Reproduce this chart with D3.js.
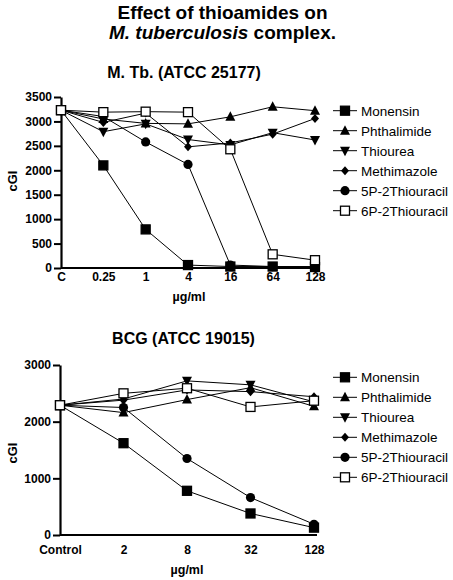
<!DOCTYPE html>
<html><head><meta charset="utf-8">
<script src="https://cdn.jsdelivr.net/npm/d3@7"></script>
<style>
body{margin:0;background:#fff;}
svg{display:block;font-family:"Liberation Sans",Arial,sans-serif;}
</style></head>
<body>
<svg id="c" width="453" height="580"></svg>
<script>
const seriesNames = ["Monensin","Phthalimide","Thiourea","Methimazole","5P-2Thiouracil","6P-2Thiouracil"];
const markerTypes = ["square","triUp","triDown","diamond","circle","openSquare"];

const topCategories = ["C","0.25","1","4","16","64","128"];
const topTicks = [0,500,1000,1500,2000,2500,3000,3500];
const topMonensin    = [3230, 2100, 790, 60, 30, 30, 20];
const topPhthalimide = [3230, 3050, 2960, 2950, 3094, 3300, 3220];
const topThiourea    = [3230, 2790, 2950, 2630, 2520, 2770, 2620];
const topMethimazole = [3230, 2980, 3170, 2480, 2560, 2740, 3060];
const top5P          = [3230, 3100, 2580, 2120, 60, 30, 30];
const top6P          = [3230, 3190, 3200, 3190, 2430, 280, 160];

const botCategories = ["Control","2","8","32","128"];
const botTicks = [0,1000,2000,3000];
const botMonensin    = [2290, 1620, 780, 380, 130];
const botPhthalimide = [2290, 2160, 2390, 2600, 2270];
const botThiourea    = [2290, 2400, 2720, 2650, 2350];
const botMethimazole = [2290, 2380, 2560, 2530, 2440];
const bot5P          = [2290, 2250, 1350, 660, 190];
const bot6P          = [2290, 2500, 2590, 2260, 2370];

const svg = d3.select("#c");

svg.append("text").attr("x",222.5).attr("y",18.5).attr("text-anchor","middle")
  .attr("font-size",19).attr("font-weight","bold").text("Effect of thioamides on");
const t2 = svg.append("text").attr("x",222.5).attr("y",38.5).attr("text-anchor","middle")
  .attr("font-size",19).attr("font-weight","bold");
t2.append("tspan").attr("font-style","italic").text("M. tuberculosis");
t2.append("tspan").text(" complex.");

function marker(g, type, x, y){
  const s = 4.5;
  if(type==="square"||type==="openSquare"){
    g.append("rect").attr("x",x-s).attr("y",y-s).attr("width",2*s).attr("height",2*s)
      .attr("fill", type==="square"?"#000":"#fff").attr("stroke","#000").attr("stroke-width",1.3);
  } else if(type==="circle"){
    g.append("circle").attr("cx",x).attr("cy",y).attr("r",4.6).attr("fill","#000");
  } else if(type==="triUp"){
    g.append("path").attr("d",`M${x},${y-5.5}L${x+5},${y+4}L${x-5},${y+4}Z`).attr("fill","#000");
  } else if(type==="triDown"){
    g.append("path").attr("d",`M${x},${y+5.5}L${x+5},${y-4}L${x-5},${y-4}Z`).attr("fill","#000");
  } else if(type==="diamond"){
    g.append("path").attr("d",`M${x},${y-4.5}L${x+4},${y}L${x},${y+4.5}L${x-4},${y}Z`).attr("fill","#000");
  }
}

function panel(opt){
  const x = d3.scalePoint().domain(opt.cats).range(opt.xr);
  const y = d3.scaleLinear().domain([0,opt.ymax]).range(opt.yr);
  const g = svg.append("g");
  g.append("text").attr("x",opt.subX).attr("y",opt.subY).attr("text-anchor","middle")
    .attr("font-size",16).attr("font-weight","bold").text(opt.sub);

  // y axis
  const ya = d3.axisLeft(y).tickValues(opt.ticks).tickFormat(d3.format("d"))
    .tickSize(7).tickSizeOuter(0).tickPadding(2);
  const yg = g.append("g").attr("transform",`translate(${opt.xr[0]},0)`).call(ya);
  yg.select(".domain").attr("stroke-width",2.2);
  yg.selectAll(".tick line").attr("stroke-width",2);
  yg.selectAll("text").attr("font-size",12).attr("font-weight","bold").attr("font-family","Liberation Sans, Arial, sans-serif");

  // x axis
  const xa = d3.axisBottom(x).tickSize(0).tickPadding(opt.xpad);
  const xg = g.append("g").attr("transform",`translate(0,${opt.yr[0]})`).call(xa);
  xg.select(".domain").attr("stroke-width",2.2).attr("d",`M${opt.xr[0]},0H${opt.xr[1]+3}`);
  xg.selectAll("text").attr("font-size",12).attr("font-weight","bold").attr("font-family","Liberation Sans, Arial, sans-serif");

  g.append("text").attr("x",opt.unitX).attr("y",opt.unitY).attr("text-anchor","middle")
    .attr("font-size",12.5).attr("font-weight","bold").text("µg/ml");
  g.append("text").attr("transform",`translate(${opt.ylX},${opt.ylY}) rotate(-90)`)
    .attr("text-anchor","middle").attr("font-size",13).attr("font-weight","bold").text("cGI");

  const line = d3.line().x((d,i)=>x(opt.cats[i])).y(d=>y(d));
  opt.data.forEach((vals,k)=>{
    g.append("path").attr("d",line(vals)).attr("fill","none").attr("stroke","#000").attr("stroke-width",1);
  });
  opt.data.forEach((vals,k)=>{
    vals.forEach((v,i)=>marker(g, markerTypes[k], x(opt.cats[i]), y(v)));
  });

  // legend
  seriesNames.forEach((n,k)=>{
    const ly = opt.legY + k*20;
    g.append("line").attr("x1",333).attr("x2",357).attr("y1",ly).attr("y2",ly).attr("stroke","#000").attr("stroke-width",1);
    marker(g, markerTypes[k], 345, ly);
    g.append("text").attr("x",361).attr("y",ly+4.8).attr("font-size",13.5).text(n);
  });
}

panel({cats:topCategories, xr:[61,315], ymax:3500, yr:[268,97], ticks:topTicks, xpad:4,
  data:[topMonensin,topPhthalimide,topThiourea,topMethimazole,top5P,top6P],
  sub:"M. Tb. (ATCC 25177)", subX:184, subY:77.5, unitX:189, unitY:301,
  ylX:17, ylY:181, legY:110.7});

panel({cats:botCategories, xr:[60,314], ymax:3000, yr:[535,365], ticks:botTicks, xpad:10,
  data:[botMonensin,botPhthalimide,botThiourea,botMethimazole,bot5P,bot6P],
  sub:"BCG (ATCC 19015)", subX:183.5, subY:344, unitX:187, unitY:574,
  ylX:17, ylY:453, legY:377.3});
</script>
</body></html>
